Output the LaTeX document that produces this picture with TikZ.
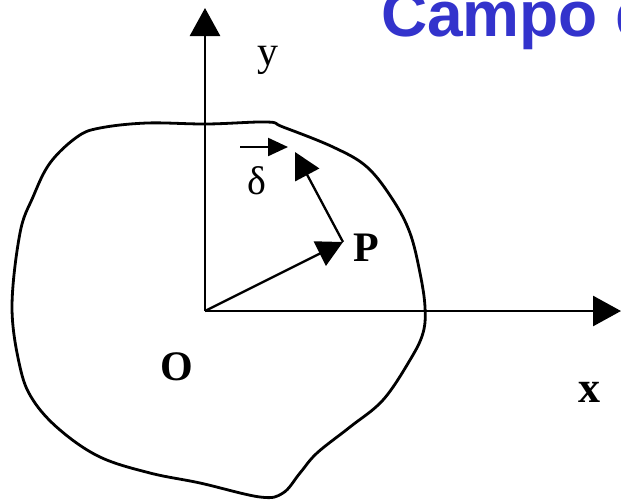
\documentclass[tikz,border=0pt]{standalone}
\usepackage{fontspec}
\setmainfont{Liberation Serif}
\newfontfamily\titlefont{Liberation Sans}
\usetikzlibrary{arrows.meta}
\definecolor{titleblue}{RGB}{51,51,204}
\tikzset{
  outline/.style={line width=2.8pt, line join=round},
  axis/.style={line width=2.8pt, -{Triangle[length=28pt,width=30pt]}},
  vec/.style={line width=2.3pt, -{Triangle[length=26pt,width=27pt]}},
  lbl/.style={inner sep=0pt, font=\fontsize{42}{46}\selectfont},
}
\begin{document}
\begin{tikzpicture}[x=1pt,y=-1pt]
\useasboundingbox (0,0) rectangle (621,501);
\clip (0,0) rectangle (621,501);
% body outline
\draw[outline] plot[smooth cycle, tension=0.6] coordinates {
 (100,128) (147,123) (207,124) (267,122) (283,127) (333,147) (367,167)
 (393,200) (410,233) (420,273) (425,307) (423,333) (410,360) (383,400)
 (350,427) (317,453) (300,473) (283,493) (260,497) (200,483) (150,473)
 (100,457) (60,430) (33,400) (20,367) (12,307) (20,233) (33,197) (50,163) (77,137)};
% coordinates
\coordinate (O) at (205,311);
\coordinate (ytip) at (205,8);
\coordinate (xtip) at (621,311);
\coordinate (P) at (343,242);
\coordinate (D) at (295,152);
% axes
\draw[axis] (O) -- (ytip);
\draw[axis] (O) -- (xtip);
% vectors
\draw[vec] (O) -- (P);
\draw[vec] (P) -- (D);
% labels
\node[lbl] (ylab) at (268,60) {y};
\node[lbl, font=\fontsize{44}{48}\selectfont\bfseries] (xlab) at (589,392) {x};
\node[lbl, font=\fontsize{42}{46}\selectfont\bfseries] (Plab) at (366,248) {P};
\node[lbl, font=\fontsize{42}{46}\selectfont\bfseries] (Olab) at (177,367) {O};
\node[lbl, font=\fontsize{40}{44}\selectfont] (dlab) at (257,181) {δ};
\coordinate (da) at (240,147);
\coordinate (db) at (288,147);
\draw[line width=2.3pt, -{Triangle[length=20pt,width=18pt]}] (da) -- (db);
% title
\node[anchor=base west, inner sep=0pt, text=titleblue,
      font=\titlefont\fontsize{64}{68}\selectfont\bfseries] (title) at (381,36) {Campo d};
\end{tikzpicture}
\end{document}
